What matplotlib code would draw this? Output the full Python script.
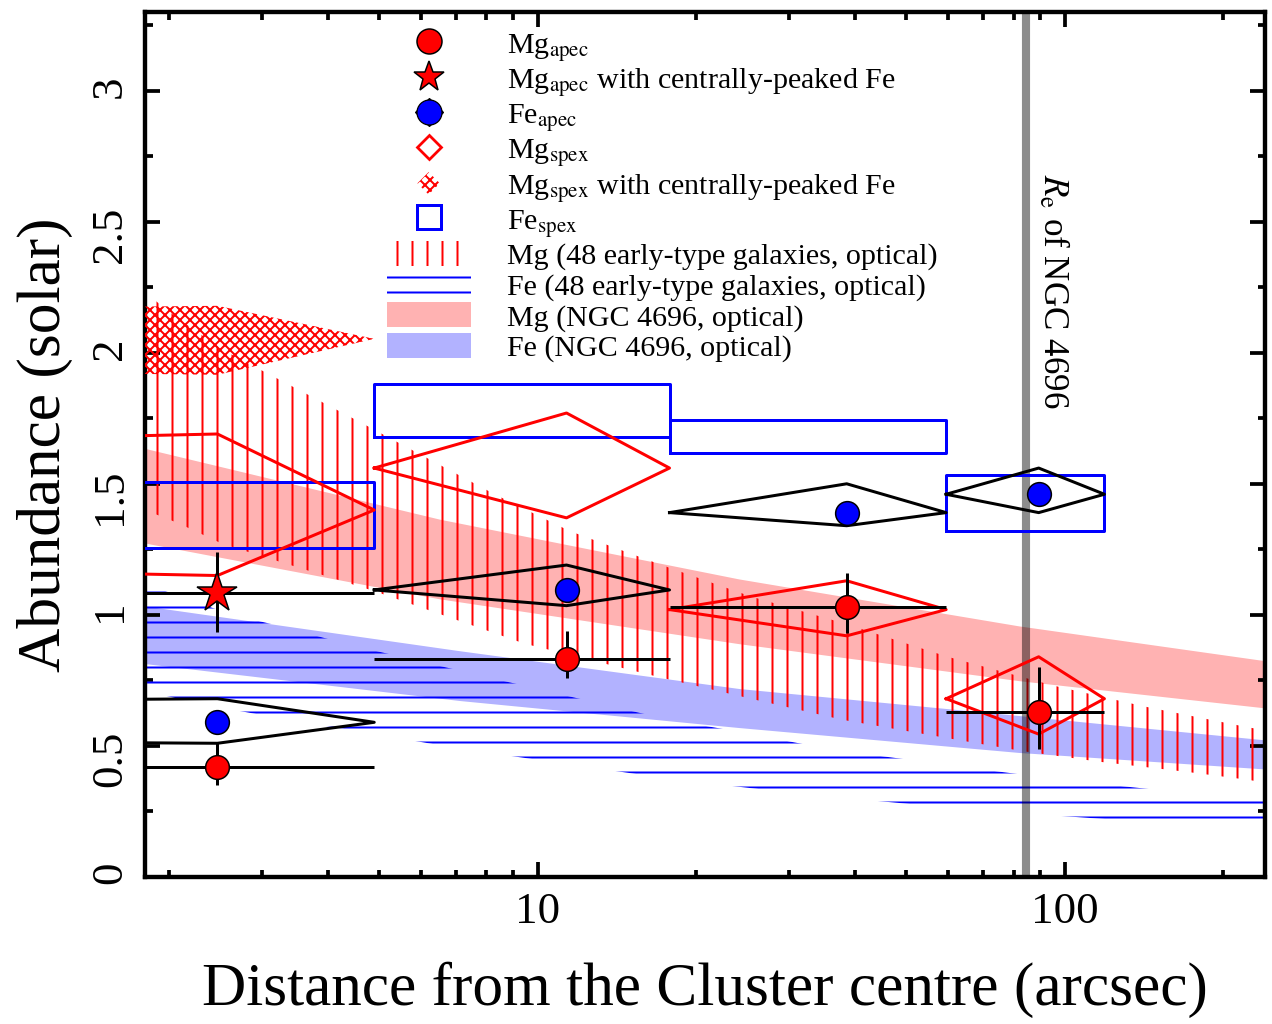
import numpy as np
import matplotlib
matplotlib.use('Agg')
import matplotlib.pyplot as plt
import matplotlib.patches as mpatches
from matplotlib.lines import Line2D
from matplotlib.legend_handler import HandlerPatch
from matplotlib.ticker import LogLocator, MultipleLocator, FuncFormatter, NullFormatter

plt.rcParams['font.family'] = ['Liberation Serif', 'DejaVu Serif']
plt.rcParams['mathtext.fontset'] = 'stix'
plt.rcParams['hatch.linewidth'] = 1.6

# --- radial bins (arcsec); first bin starts at ~0, off the log axis
r_mid = np.array([2.47, 11.35, 38.6, 89.3])
r_lo = np.array([1e-6, 4.9, 17.8, 59.6])
r_hi = np.array([4.9, 17.8, 59.6, 119.0])

# Mg apec (red circles)
mg_apec = np.array([0.42, 0.83, 1.03, 0.63])
mg_apec_lo = np.array([0.35, 0.76, 0.93, 0.49])
mg_apec_hi = np.array([0.51, 0.94, 1.16, 0.80])

# Mg apec with centrally-peaked Fe (star, first bin only)
mg_apec_cp = np.array([1.084])
mg_apec_cp_lo = np.array([0.935])
mg_apec_cp_hi = np.array([1.24])

# Fe apec (blue circles + black diamonds)
fe_apec = np.array([0.59, 1.095, 1.39, 1.46])
fe_apec_lo = np.array([0.51, 1.035, 1.34, 1.39])
fe_apec_hi = np.array([0.68, 1.19, 1.50, 1.56])

# Mg spex (open red diamonds)
mg_spex = np.array([1.40, 1.56, 1.02, 0.68])
mg_spex_lo = np.array([1.15, 1.37, 0.92, 0.545])
mg_spex_hi = np.array([1.69, 1.77, 1.13, 0.84])

# Mg spex with centrally-peaked Fe (dotted diamond, first bin only)
mg_spex_cp = np.array([2.053])
mg_spex_cp_lo = np.array([1.916])
mg_spex_cp_hi = np.array([2.179])

# Fe spex (blue boxes)
fe_spex_lo = np.array([1.255, 1.677, 1.616, 1.319])
fe_spex_hi = np.array([1.506, 1.882, 1.745, 1.532])

# Mg, 48 early-type galaxies (vertical hatch)
etg_mg_up_r = [1.8, 2.08, 2.53, 3.29, 4.56, 8.29, 11.5, 17.2, 25.4, 37.8, 60.0, 95.3, 142, 224, 240]
etg_mg_up = [2.23, 2.13, 2.01, 1.89, 1.74, 1.46, 1.32, 1.19, 1.07, 0.97, 0.84, 0.73, 0.65, 0.57, 0.56]
etg_mg_dn_r = [1.8, 2.08, 2.53, 4.91, 6.81, 9.45, 17.2, 25.4, 37.8, 56.0, 83.2, 116, 172, 224, 240]
etg_mg_dn = [1.40, 1.35, 1.27, 1.09, 0.99, 0.89, 0.76, 0.68, 0.60, 0.54, 0.48, 0.44, 0.40, 0.37, 0.36]

# Fe, 48 early-type galaxies (horizontal hatch)
etg_fe_up_r = [1.8, 2.16, 2.64, 3.36, 4.31, 17.3, 25.0, 35.9, 57.2, 96.7, 178, 240]
etg_fe_up = [1.12, 1.06, 1.00, 0.95, 0.89, 0.605, 0.548, 0.487, 0.433, 0.373, 0.316, 0.29]
etg_fe_dn_r = [1.8, 2.27, 3.25, 4.81, 7.11, 18.0, 32.0, 67.8, 164, 240]
etg_fe_dn = [0.71, 0.662, 0.605, 0.548, 0.49, 0.373, 0.316, 0.255, 0.202, 0.18]

# NGC 4696 optical bands
ngc_r = [1.8, 6.52, 24.1, 81.8, 240]
ngc_mg_lo = [1.274, 1.061, 0.890, 0.749, 0.645]
ngc_mg_hi = [1.635, 1.365, 1.137, 0.958, 0.825]
ngc_fe_r = [1.8, 7.12, 24.1, 81.8, 240]
ngc_fe_lo = [0.814, 0.673, 0.570, 0.475, 0.412]
ngc_fe_hi = [1.034, 0.863, 0.719, 0.616, 0.523]

re_ngc4696 = 84.5

fig = plt.figure(figsize=(1272 / 90, 1024 / 90), dpi=90)
ax = fig.add_axes([0.114, 0.1436, 0.8805, 0.8447])
ax.set_xscale('log')

# optical bands
ax.fill_between(ngc_r, ngc_mg_lo, ngc_mg_hi, color='red', alpha=0.3, lw=0, zorder=1)
ax.fill_between(ngc_fe_r, ngc_fe_lo, ngc_fe_hi, color='blue', alpha=0.3, lw=0, zorder=1)

ax.fill(np.r_[etg_mg_up_r, etg_mg_dn_r[::-1]], np.r_[etg_mg_up, etg_mg_dn[::-1]],
        facecolor='none', edgecolor='red', hatch='|', lw=0, zorder=2)
ax.fill(np.r_[etg_fe_up_r, etg_fe_dn_r[::-1]], np.r_[etg_fe_up, etg_fe_dn[::-1]],
        facecolor='none', edgecolor='blue', hatch='-', lw=0, zorder=2)

# effective radius line
ax.axvline(re_ngc4696, color='k', alpha=0.45, lw=6.5, zorder=3)
ax.text(88, 2.68, r'$R_{\rm e}$ of NGC 4696', rotation=270, ha='left', va='top', fontsize=28, zorder=3)

# dotted diamond (Mg spex, centrally-peaked Fe)
for i in range(len(mg_spex_cp)):
    ax.fill([r_lo[i], r_mid[i], r_hi[i], r_mid[i]],
            [mg_spex_cp[i], mg_spex_cp_hi[i], mg_spex_cp[i], mg_spex_cp_lo[i]],
            facecolor='none', edgecolor='red', hatch='xxx', lw=0, zorder=3)

# Fe spex boxes
for i in range(len(r_mid)):
    ax.plot([r_lo[i], r_hi[i], r_hi[i], r_lo[i], r_lo[i]],
            [fe_spex_lo[i], fe_spex_lo[i], fe_spex_hi[i], fe_spex_hi[i], fe_spex_lo[i]],
            color='blue', lw=2.4, zorder=4)

# Mg spex diamonds and Fe apec diamonds
for i in range(len(r_mid)):
    ax.plot([r_lo[i], r_mid[i], r_hi[i], r_mid[i], r_lo[i]],
            [mg_spex[i], mg_spex_hi[i], mg_spex[i], mg_spex_lo[i], mg_spex[i]],
            color='red', lw=2.4, zorder=4)
    ax.plot([r_lo[i], r_mid[i], r_hi[i], r_mid[i], r_lo[i]],
            [fe_apec[i], fe_apec_hi[i], fe_apec[i], fe_apec_lo[i], fe_apec[i]],
            color='k', lw=2.4, zorder=4)

ax.plot(r_mid, fe_apec, ls='none', marker='o', mfc='blue', mec='k', ms=19, mew=1.2, zorder=6)

ax.errorbar(r_mid, mg_apec, xerr=[r_mid - r_lo, r_hi - r_mid],
            yerr=[mg_apec - mg_apec_lo, mg_apec_hi - mg_apec],
            fmt='o', mfc='red', mec='k', ms=19, mew=1.2, ecolor='k', elinewidth=2.4,
            capsize=0, zorder=5)
n = len(mg_apec_cp)
ax.errorbar(r_mid[:n], mg_apec_cp, xerr=[r_mid[:n] - r_lo[:n], r_hi[:n] - r_mid[:n]],
            yerr=[mg_apec_cp - mg_apec_cp_lo, mg_apec_cp_hi - mg_apec_cp],
            fmt='*', mfc='red', mec='k', ms=33, mew=1.2, ecolor='k', elinewidth=2.4,
            capsize=0, zorder=5)

ax.set_xlim(1.8, 240)
ax.set_ylim(0, 3.3)
ax.xaxis.set_major_locator(LogLocator(base=10))
ax.xaxis.set_major_formatter(FuncFormatter(lambda v, p: f'{v:g}'))
ax.xaxis.set_minor_locator(LogLocator(base=10, subs=np.arange(2, 10)))
ax.xaxis.set_minor_formatter(NullFormatter())
ax.yaxis.set_major_locator(MultipleLocator(0.5))
ax.yaxis.set_minor_locator(MultipleLocator(0.25))
ax.yaxis.set_major_formatter(FuncFormatter(lambda v, p: f'{v:g}'))

ax.tick_params(which='both', direction='in', top=True, right=True, width=3, labelsize=36)
ax.tick_params(which='major', length=12)
ax.tick_params(which='minor', length=6)
ax.tick_params(axis='y', labelrotation=90, pad=12)
ax.tick_params(axis='x', pad=12)
for s in ax.spines.values():
    s.set_linewidth(3.5)

ax.set_xlabel('Distance from the Cluster centre (arcsec)', fontsize=49, labelpad=24)
ax.set_ylabel('Abundance (solar)', fontsize=49, labelpad=14)


def diamond(legend, orig_handle, xdescent, ydescent, width, height, fontsize):
    cx = width / 2 - xdescent
    cy = height / 2 - ydescent
    rr = height * 0.45
    return mpatches.Polygon([[cx - rr, cy], [cx, cy + rr], [cx + rr, cy], [cx, cy - rr]], closed=True)


dotted = mpatches.Patch(facecolor='none', edgecolor='red', hatch='xxx', lw=0)
handles = [
    Line2D([], [], ls='none', marker='o', mfc='red', mec='k', ms=20, mew=1.2),
    Line2D([], [], ls='none', marker='*', mfc='red', mec='k', ms=25, mew=1.2),
    (Line2D([], [], ls='none', marker='D', mfc='k', mec='k', ms=16),
     Line2D([], [], ls='none', marker='o', mfc='blue', mec='k', ms=20, mew=1.0)),
    Line2D([], [], ls='none', marker='D', mfc='none', mec='red', ms=14, mew=2.2),
    dotted,
    Line2D([], [], ls='none', marker='s', mfc='none', mec='blue', ms=19, mew=2.4),
    mpatches.Patch(facecolor='none', edgecolor='red', hatch='|', lw=0),
    mpatches.Patch(facecolor='none', edgecolor='blue', hatch='-', lw=0),
    mpatches.Patch(facecolor='red', alpha=0.3, lw=0),
    mpatches.Patch(facecolor='blue', alpha=0.3, lw=0),
]
labels = [
    r'Mg$_{\rm apec}$',
    r'Mg$_{\rm apec}$ with centrally-peaked Fe',
    r'Fe$_{\rm apec}$',
    r'Mg$_{\rm spex}$',
    r'Mg$_{\rm spex}$ with centrally-peaked Fe',
    r'Fe$_{\rm spex}$',
    'Mg (48 early-type galaxies, optical)',
    'Fe (48 early-type galaxies, optical)',
    'Mg (NGC 4696, optical)',
    'Fe (NGC 4696, optical)',
]
ax.legend(handles, labels, loc='upper left', bbox_to_anchor=(0.205, 0.993), frameon=False,
          fontsize=24, handlelength=2.8, handleheight=0.9, handletextpad=1.2,
          labelspacing=0.05, borderaxespad=0, borderpad=0.4, numpoints=1,
          handler_map={dotted: HandlerPatch(patch_func=diamond)})

fig.savefig('out.png', dpi=90)
